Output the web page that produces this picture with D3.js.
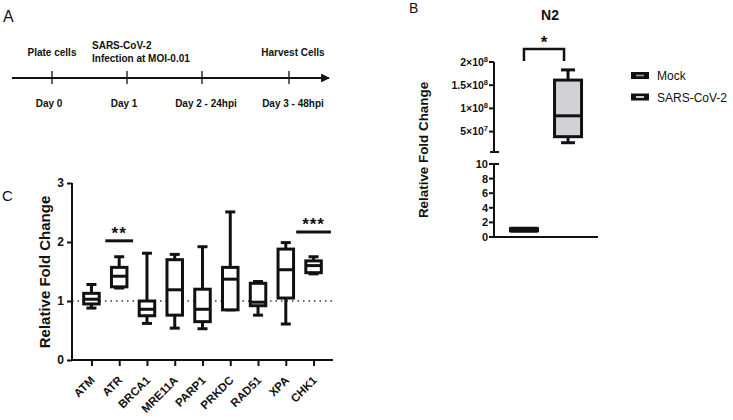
<!DOCTYPE html>
<html lang="en">
<head>
  <meta charset="UTF-8">
  <title>DNA damage response genes</title>
  <script src="https://d3js.org/d3.v7.min.js"></script>
  <style>
    body { margin: 0; background: #fff; }
    text { font-family: "Liberation Sans", Arial, sans-serif; fill: #111; }
    .b { font-weight: bold; }
  </style>
</head>
<body>
<div id="chart"></div>
<script>
// ---- panel A: timeline ----
const dayLabels = ["Day 0", "Day 1", "Day 2 - 24hpi", "Day 3 - 48hpi"];
const dayPos = [0, 1, 2, 3.16];
const events = [
  {day: 0, lines: ["Plate cells"], anchor: "middle"},
  {day: 1, lines: ["SARS-CoV-2", "Infection at MOI-0.01"], anchor: "start"},
  {day: 3.16, lines: ["Harvest Cells"], anchor: "middle"}
];

// ---- panel B: N2 ----
const n2Groups = ["Mock", "SARS-CoV-2"];
const n2Mock = [0.8, 0.85, 1.0, 1.15, 1.2];            // min, q1, median, q3, max
const n2Sars = [2.6e7, 3.9e7, 8.4e7, 1.61e8, 1.83e8];
const n2UpperTicks = [5e7, 1e8, 1.5e8, 2e8];
const n2UpperLabels = [["5", "7"], ["1", "8"], ["1.5", "8"], ["2", "8"]];
const n2LowerTicks = [0, 2, 4, 6, 8, 10];

// ---- panel C: DDR genes ----
const genes = ["ATM", "ATR", "BRCA1", "MRE11A", "PARP1", "PRKDC", "RAD51", "XPA", "CHK1"];
const gMin = [0.88, 1.22, 0.62, 0.54, 0.53, 0.85, 0.76, 0.61, 1.46];
const gQ1  = [0.95, 1.24, 0.75, 0.76, 0.65, 0.85, 0.92, 1.05, 1.48];
const gMed = [1.03, 1.42, 0.86, 1.19, 0.86, 1.37, 0.98, 1.53, 1.60];
const gQ3  = [1.13, 1.57, 1.00, 1.70, 1.20, 1.57, 1.30, 1.88, 1.68];
const gMax = [1.28, 1.75, 1.81, 1.79, 1.92, 2.51, 1.33, 1.99, 1.75];
const sigs = [{gene: "ATR", label: "**", y: 2.02}, {gene: "CHK1", label: "***", y: 2.17}];

const svg = d3.select("#chart").append("svg")
  .attr("width", 733).attr("height", 420);

// ================= A =================
const gA = svg.append("g");
gA.append("text").attr("x", 3).attr("y", 22).attr("font-size", 16).text("A");

const xA = d3.scaleLinear().domain([0, 3.16]).range([52, 289]);
gA.append("defs").append("marker")
  .attr("id", "arr").attr("viewBox", "0 0 10 10")
  .attr("refX", 9).attr("refY", 5)
  .attr("markerWidth", 4).attr("markerHeight", 4)
  .attr("orient", "auto")
  .append("path").attr("d", "M0,0L10,5L0,10z").attr("fill", "#111");
gA.append("line")
  .attr("x1", 12).attr("x2", 329).attr("y1", 78).attr("y2", 78)
  .attr("stroke", "#111").attr("stroke-width", 2.2)
  .attr("marker-end", "url(#arr)");
gA.selectAll(".tk").data(dayPos).join("line")
  .attr("x1", d => xA(d)).attr("x2", d => xA(d))
  .attr("y1", 71).attr("y2", 84)
  .attr("stroke", "#111").attr("stroke-width", 1.3);
gA.selectAll(".dl").data(dayLabels).join("text")
  .attr("class", "b").attr("font-size", 10)
  .attr("text-anchor", "middle")
  .attr("x", (d, i) => xA(dayPos[i]) + (i > 1 ? 4 : -3))
  .attr("y", 107)
  .text(d => d);
events.forEach(ev => {
  const t = gA.append("text").attr("class", "b").attr("font-size", 10)
    .attr("text-anchor", ev.anchor);
  const x0 = ev.anchor === "start" ? xA(ev.day) - 35 : xA(ev.day) + (ev.day > 2 ? 4 : 0);
  const y0 = ev.lines.length > 1 ? 49 : 56;
  ev.lines.forEach((s, i) => {
    t.append("tspan").attr("x", x0).attr("y", y0 + i * 13).text(s);
  });
});

// ================= B =================
const gB = svg.append("g");
gB.append("text").attr("x", 409).attr("y", 13).attr("font-size", 14).text("B");
gB.append("text").attr("class", "b").attr("font-size", 14)
  .attr("x", 550).attr("y", 20).attr("text-anchor", "middle").text("N2");

const yLow = d3.scaleLinear().domain([0, 10]).range([237, 164]);
const yUp = d3.scaleLinear().domain([6e6, 2e8]).range([152, 62]);
const yB = v => v <= 10 ? yLow(v) : yUp(v);
const xB = d3.scalePoint().domain(n2Groups).range([494, 598]).padding(0.68);
const axB = 494;

// axis lines
gB.append("line").attr("x1", axB).attr("x2", axB).attr("y1", 62).attr("y2", 152)
  .attr("stroke", "#111").attr("stroke-width", 2);
gB.append("line").attr("x1", axB).attr("x2", axB).attr("y1", 164).attr("y2", 238)
  .attr("stroke", "#111").attr("stroke-width", 2);
gB.append("line").attr("x1", axB - 1).attr("x2", 598).attr("y1", 237).attr("y2", 237)
  .attr("stroke", "#111").attr("stroke-width", 2);
// break marks
[152, 164].forEach(y => gB.append("line")
  .attr("x1", axB - 4).attr("x2", axB + 5).attr("y1", y).attr("y2", y)
  .attr("stroke", "#111").attr("stroke-width", 2));

n2UpperTicks.forEach((v, i) => {
  gB.append("line").attr("x1", axB - 5).attr("x2", axB).attr("y1", yUp(v)).attr("y2", yUp(v))
    .attr("stroke", "#111").attr("stroke-width", 2);
  const t = gB.append("text").attr("class", "b").attr("font-size", 10.5)
    .attr("text-anchor", "end").attr("x", axB - 6).attr("y", yUp(v) + 3.5);
  t.append("tspan").text(n2UpperLabels[i][0] + "\u00d710");
  t.append("tspan").attr("dy", -4).attr("font-size", 7.5).text(n2UpperLabels[i][1]);
});
n2LowerTicks.forEach(v => {
  gB.append("line").attr("x1", axB - 5).attr("x2", axB).attr("y1", yLow(v)).attr("y2", yLow(v))
    .attr("stroke", "#111").attr("stroke-width", 2);
  gB.append("text").attr("class", "b").attr("font-size", 11)
    .attr("text-anchor", "end").attr("x", axB - 6).attr("y", yLow(v) + 4).text(v);
});
gB.append("text").attr("class", "b").attr("font-size", 13.4)
  .attr("transform", "translate(428,150) rotate(-90)")
  .attr("text-anchor", "middle").text("Relative Fold Change");

function drawBox(g, cx, vals, w, cap, y, fill, sw) {
  const [mn, q1, md, q3, mx] = vals.map(y);
  g.append("line").attr("x1", cx).attr("x2", cx).attr("y1", mx).attr("y2", q3)
    .attr("stroke", "#111").attr("stroke-width", sw);
  g.append("line").attr("x1", cx).attr("x2", cx).attr("y1", q1).attr("y2", mn)
    .attr("stroke", "#111").attr("stroke-width", sw);
  g.append("line").attr("x1", cx - cap / 2).attr("x2", cx + cap / 2).attr("y1", mx).attr("y2", mx)
    .attr("stroke", "#111").attr("stroke-width", sw);
  g.append("line").attr("x1", cx - cap / 2).attr("x2", cx + cap / 2).attr("y1", mn).attr("y2", mn)
    .attr("stroke", "#111").attr("stroke-width", sw);
  g.append("rect").attr("x", cx - w / 2).attr("width", w)
    .attr("y", q3).attr("height", Math.max(0.5, q1 - q3))
    .attr("fill", fill).attr("stroke", "#111").attr("stroke-width", sw);
  g.append("line").attr("x1", cx - w / 2).attr("x2", cx + w / 2).attr("y1", md).attr("y2", md)
    .attr("stroke", "#111").attr("stroke-width", sw);
}
drawBox(gB, xB("Mock"), n2Mock, 27, 27, yB, "#111", 3);
drawBox(gB, xB("SARS-CoV-2"), n2Sars, 27, 14, yB, "#d2d2d6", 3);

// significance bracket
const bx1 = xB("Mock"), bx2 = xB("SARS-CoV-2") - 4;
gB.append("path")
  .attr("d", `M${bx1},61V49H${bx2}V61`)
  .attr("fill", "none").attr("stroke", "#111").attr("stroke-width", 2.5);
gB.append("text").attr("class", "b").attr("font-size", 17)
  .attr("text-anchor", "middle").attr("x", (bx1 + bx2) / 2).attr("y", 48).text("*");

// legend
const legB = gB.selectAll(".leg").data(n2Groups).join("g")
  .attr("transform", (d, i) => `translate(631,${72 + i * 21.5})`);
legB.append("rect").attr("width", 18).attr("height", 7).attr("fill", "#111");
legB.append("line").attr("x1", 5).attr("x2", 13).attr("y1", 3.5).attr("y2", 3.5)
  .attr("stroke", (d, i) => i === 0 ? "#999" : "#fff").attr("stroke-width", 1.6);
legB.append("text").attr("font-size", 12).attr("x", 26).attr("y", 8).text(d => d);

// ================= C =================
const gC = svg.append("g");
gC.append("text").attr("x", 2).attr("y", 201).attr("font-size", 15).text("C");

const xC = d3.scalePoint().domain(genes).range([72, 333]).padding(0.7);
const yC = d3.scaleLinear().domain([0, 3]).range([360, 183]);

gC.append("line").attr("x1", 72).attr("x2", 333).attr("y1", yC(1)).attr("y2", yC(1))
  .attr("stroke", "#333").attr("stroke-width", 1.3).attr("stroke-dasharray", "1.5,4");

const axL = gC.append("g").attr("transform", "translate(72,0)")
  .call(d3.axisLeft(yC).tickValues([0, 1, 2, 3]).tickSize(5).tickFormat(d3.format("d")));
const axBt = gC.append("g").attr("transform", "translate(0,360)")
  .call(d3.axisBottom(xC).tickSize(6).tickFormat(""));
[axL, axBt].forEach(a => {
  a.select(".domain").attr("stroke", "#111").attr("stroke-width", 2);
  a.selectAll(".tick line").attr("stroke", "#111").attr("stroke-width", 2);
});
axL.select(".domain").attr("d", "M0,361V183");
axBt.select(".domain").attr("d", "M71,0H333");
axL.selectAll(".tick text").attr("class", "b").attr("font-size", 12)
  .attr("font-family", "Liberation Sans, Arial, sans-serif").attr("fill", "#111");

gC.selectAll(".gl").data(genes).join("text")
  .attr("class", "b").attr("font-size", 11.5)
  .attr("text-anchor", "end")
  .attr("transform", d => `translate(${xC(d) + 4},${381}) rotate(-45)`)
  .text(d => d);

gC.append("text").attr("class", "b").attr("font-size", 15)
  .attr("transform", "translate(50,272) rotate(-90)")
  .attr("text-anchor", "middle").text("Relative Fold Change");

genes.forEach((g, i) => {
  drawBox(gC, xC(g), [gMin[i], gQ1[i], gMed[i], gQ3[i], gMax[i]], 15.5, 10, yC, "#fff", 3);
});

sigs.forEach(s => {
  const cx = xC(s.gene), w = xC.step() * (s.label.length > 2 ? 1.25 : 1.0);
  gC.append("line").attr("x1", cx - w / 2).attr("x2", cx + w / 2)
    .attr("y1", yC(s.y)).attr("y2", yC(s.y))
    .attr("stroke", "#111").attr("stroke-width", 3);
  gC.append("text").attr("class", "b").attr("font-size", 17)
    .attr("text-anchor", "middle").attr("letter-spacing", 1)
    .attr("x", cx).attr("y", yC(s.y) - 2).text(s.label);
});
</script>
</body>
</html>
